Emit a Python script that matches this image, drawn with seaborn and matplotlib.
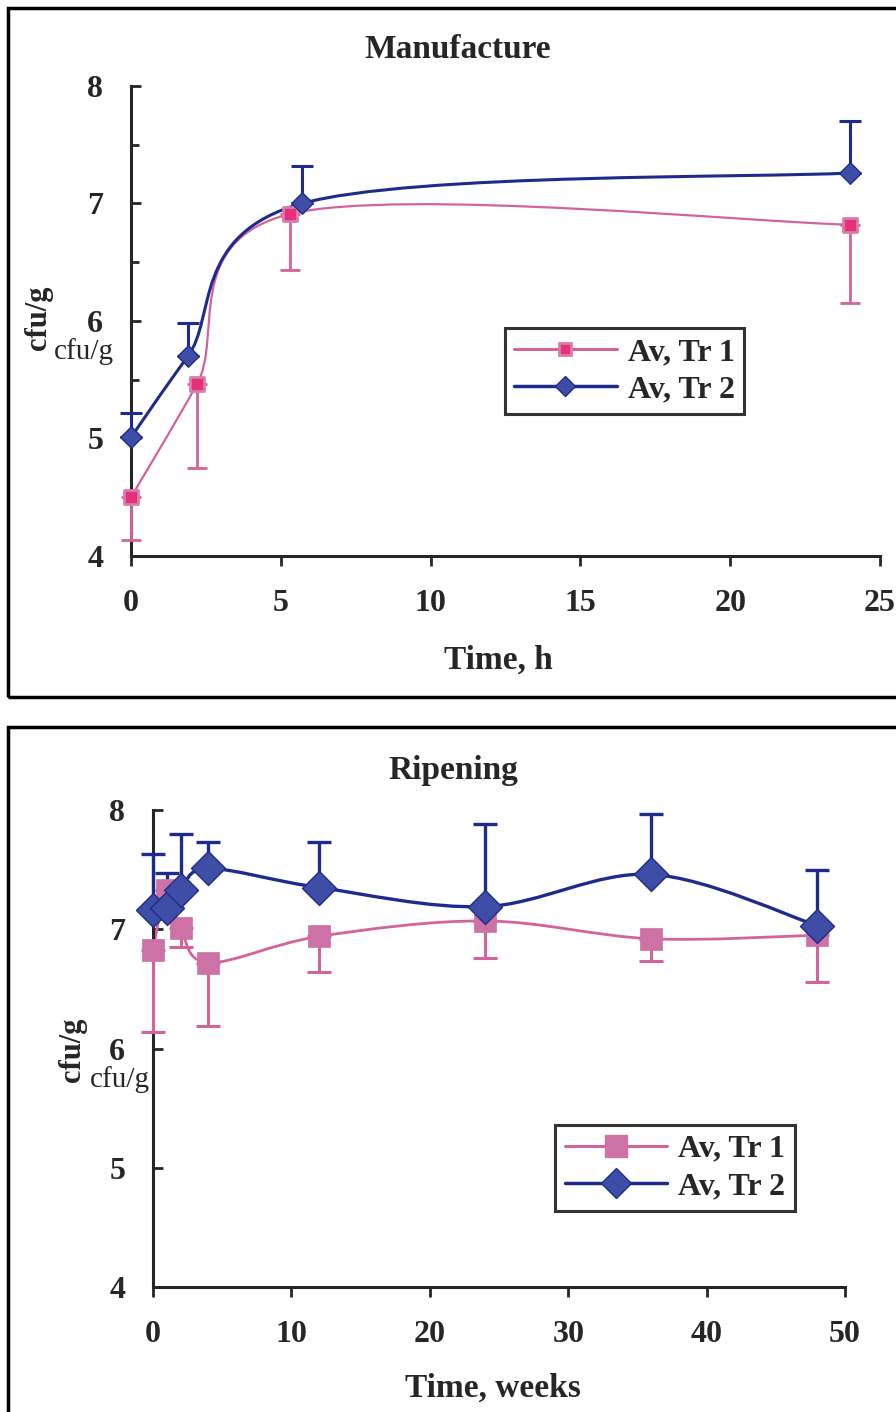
import numpy as np
import matplotlib
matplotlib.use("Agg")
import matplotlib.pyplot as plt
from matplotlib.path import Path
from matplotlib.patches import PathPatch, Rectangle
from matplotlib.lines import Line2D
import seaborn as sns

# Manufacture (hours)
man_t1_x = [0, 2.2, 5.3, 24]
man_t1_y = [4.50, 5.46, 6.91, 6.82]
man_t1_err = [0.36, 0.71, 0.48, 0.67]   # drawn downward
man_t2_x = [0, 1.9, 5.7, 24]
man_t2_y = [5.01, 5.70, 7.00, 7.26]
man_t2_err = [0.21, 0.28, 0.32, 0.44]   # drawn upward

# Ripening (weeks)
rip_t1_x = [0, 1, 2, 4, 12, 24, 36, 48]
rip_t1_y = [6.83, 7.33, 7.01, 6.72, 6.94, 7.07, 6.92, 6.95]
rip_t1_err = [0.69, 0.15, 0.16, 0.53, 0.30, 0.31, 0.19, 0.39]
rip_t2_x = [0, 1, 2, 4, 12, 24, 36, 48]
rip_t2_y = [7.16, 7.18, 7.33, 7.51, 7.35, 7.19, 7.46, 7.03]
rip_t2_err = [0.47, 0.29, 0.47, 0.22, 0.38, 0.69, 0.51, 0.47]

labels = ["Av, Tr 1", "Av, Tr 2"]

PINK = "#d3639c"
PINK_DARK = "#e8307a"
PINK_LIGHT = "#d67dab"
PINK_SQ = "#cc72a5"
BLUE = "#1f2b8c"
BLUE_FILL = "#3e4ea6"

sns.set_style("ticks")
plt.rcParams["font.family"] = ["Liberation Serif", "DejaVu Serif"]
plt.rcParams["font.weight"] = "bold"

W, H = 896, 1412
fig = plt.figure(figsize=(W / 100, H / 100), dpi=100)


def box(l, t, r, b):
    return [l / W, 1 - b / H, (r - l) / W, (b - t) / H]


def smooth(ax, xs, ys, color, lw):
    # excel style smoothed line: cubic bezier through the points
    p = np.column_stack([xs, ys]).astype(float)
    n = len(p)
    verts = [p[0]]
    codes = [Path.MOVETO]
    for i in range(n - 1):
        p0 = p[max(i - 1, 0)]
        p3 = p[min(i + 2, n - 1)]
        c1 = p[i] + (p[i + 1] - p0) / 6
        c2 = p[i + 1] - (p3 - p[i]) / 6
        verts += [c1, c2, p[i + 1]]
        codes += [Path.CURVE4] * 3
    ax.add_patch(PathPatch(Path(verts, codes), fill=False, edgecolor=color,
                           lw=lw, zorder=2, capstyle="round", clip_on=False))


def style_axes(ax, xmax, xstep, minor_y):
    sns.despine(ax=ax)
    ax.spines["left"].set_linewidth(2.2)
    ax.spines["bottom"].set_linewidth(2.2)
    ax.set_xlim(0, xmax)
    ax.set_ylim(4, 8)
    ax.set_xticks(np.arange(0, xmax + 1, xstep))
    ax.set_yticks([4, 5, 6, 7, 8])
    if minor_y:
        ax.set_yticks(np.arange(4.5, 8, 1), minor=True)
    ax.tick_params(axis="y", which="major", direction="in", length=7, width=2,
                   pad=20, labelsize=23)
    ax.tick_params(axis="y", which="minor", direction="in", length=6, width=2)
    ax.tick_params(axis="x", direction="out", length=7, width=2, pad=17,
                   labelsize=23)
    for lab in ax.get_xticklabels() + ax.get_yticklabels():
        lab.set_fontweight("bold")
    ax.set_xlabel("")
    ax.set_ylabel("")


def legend(ax, ms1, ms2, loc, big):
    h1 = Line2D([], [], color=PINK, lw=2.2, marker="s", markersize=ms1,
                markerfacecolor=PINK_SQ if big else PINK_DARK,
                markeredgecolor=PINK_SQ if big else PINK_LIGHT,
                markeredgewidth=1 if big else 2)
    h2 = Line2D([], [], color=BLUE, lw=2.5, marker="D", markersize=ms2,
                markerfacecolor=BLUE_FILL, markeredgecolor=BLUE)
    lg = ax.legend([h1, h2], labels, loc="upper left", bbox_to_anchor=loc,
                   frameon=True, fancybox=False, handlelength=3.2,
                   prop={"size": 23, "weight": "bold"}, borderpad=0.3,
                   labelspacing=0.25, handletextpad=0.35, borderaxespad=0)
    lg.get_frame().set_edgecolor("black")
    lg.get_frame().set_linewidth(2.2)


# outer frames
fig.patches.append(Rectangle((8 / W, 1 - 697 / H), 900 / W, 689 / H,
                             transform=fig.transFigure, fill=False,
                             edgecolor="black", lw=2.5))
fig.patches.append(Rectangle((8 / W, -0.02), 900 / W, 1.02 - 727 / H,
                             transform=fig.transFigure, fill=False,
                             edgecolor="black", lw=2.5))

# ---- Manufacture ----
ax1 = fig.add_axes(box(131, 86, 880, 556))
smooth(ax1, man_t1_x, man_t1_y, PINK, 1.6)
smooth(ax1, man_t2_x, man_t2_y, BLUE, 2.2)
ax1.errorbar(man_t1_x, man_t1_y, yerr=[man_t1_err, [0] * 4], fmt="none",
             ecolor=PINK, elinewidth=2, capsize=7, capthick=2, zorder=3,
             clip_on=False)
ax1.errorbar(man_t2_x, man_t2_y, yerr=[[0] * 4, man_t2_err], fmt="none",
             ecolor=BLUE, elinewidth=2.2, capsize=8, capthick=2.2, zorder=3,
             clip_on=False)
sns.scatterplot(x=man_t1_x, y=man_t1_y, ax=ax1, marker="s", s=95,
                color=PINK_DARK, edgecolor=PINK_LIGHT, linewidth=2, zorder=4,
                clip_on=False)
sns.scatterplot(x=man_t2_x, y=man_t2_y, ax=ax1, marker="D", s=120,
                color=BLUE_FILL, edgecolor=BLUE, linewidth=1, zorder=5,
                clip_on=False)
style_axes(ax1, 25, 5, True)
ax1.set_xticklabels(["0", "5", "10", "15", "20", "25"])
legend(ax1, 9, 10, (0.499, 0.485), False)

fig.text(458 / W, 1 - 50 / H, "Manufacture", ha="center", va="center",
         fontsize=24, fontweight="bold")
fig.text(498 / W, 1 - 660 / H, "Time, h", ha="center", va="center",
         fontsize=24, fontweight="bold")
fig.text(38 / W, 1 - 318 / H, "cfu/g", rotation=90, ha="center",
         va="center", fontsize=22, fontweight="bold")
fig.text(84 / W, 1 - 352 / H, "cfu/g", ha="center", va="center",
         fontsize=21, fontweight="normal")

# ---- Ripening ----
ax2 = fig.add_axes(box(153, 810, 845, 1287))
smooth(ax2, rip_t1_x, rip_t1_y, PINK, 2)
smooth(ax2, rip_t2_x, rip_t2_y, BLUE, 2.4)
ax2.errorbar(rip_t1_x, rip_t1_y, yerr=[rip_t1_err, [0] * 8], fmt="none",
             ecolor=PINK, elinewidth=2.2, capsize=8.5, capthick=2.2, zorder=3,
             clip_on=False)
ax2.errorbar(rip_t2_x, rip_t2_y, yerr=[[0] * 8, rip_t2_err], fmt="none",
             ecolor=BLUE, elinewidth=2.4, capsize=8.5, capthick=2.4, zorder=3,
             clip_on=False)
sns.scatterplot(x=rip_t1_x, y=rip_t1_y, ax=ax2, marker="s", s=260,
                color=PINK_SQ, edgecolor=PINK_SQ, linewidth=0.5, zorder=4,
                clip_on=False)
sns.scatterplot(x=rip_t2_x, y=rip_t2_y, ax=ax2, marker="D", s=300,
                color=BLUE_FILL, edgecolor=BLUE, linewidth=1, zorder=5,
                clip_on=False)
style_axes(ax2, 50, 10, False)
legend(ax2, 16, 15, (0.581, 0.34), True)

fig.text(453 / W, 1 - 770 / H, "Ripening", ha="center", va="center",
         fontsize=24, fontweight="bold")
fig.text(493 / W, 1 - 1388 / H, "Time, weeks", ha="center", va="center",
         fontsize=24, fontweight="bold")
fig.text(72 / W, 1 - 1050 / H, "cfu/g", rotation=90, ha="center",
         va="center", fontsize=22, fontweight="bold")
fig.text(120 / W, 1 - 1080 / H, "cfu/g", ha="center", va="center",
         fontsize=21, fontweight="normal")

fig.savefig("out.png", dpi=100)
